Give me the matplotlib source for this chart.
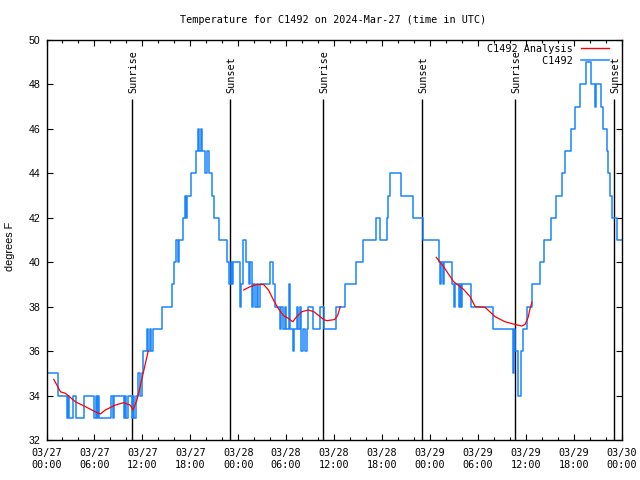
import matplotlib
matplotlib.use('Agg')
import matplotlib.pyplot as plt
from matplotlib.lines import Line2D

# time axis: hours since 2024-03-27 00:00 UTC
obs_hours = [0.0, 1.5, 2.6, 2.75, 2.85, 3.3, 3.7, 4.7, 6.0, 6.2, 6.35, 6.5, 6.6, 8.1, 8.3, 8.5,
             9.7, 9.85, 10.0, 10.2, 10.7, 10.85, 10.95, 11.2, 11.5, 11.7, 11.9, 12.1, 12.6, 12.7,
             12.9, 13.1, 13.3, 14.5, 15.7, 15.9, 16.2, 16.4, 16.6, 17.1, 17.3, 17.45, 17.6, 18.05,
             18.7, 19.0, 19.15, 19.3, 19.45, 19.9, 20.1, 20.3, 20.7, 21.0, 21.6, 22.6, 22.8, 23.1,
             23.2, 23.3, 24.2, 24.4, 24.6, 25.0, 25.3, 25.5, 25.7, 25.9, 26.1, 26.3, 26.5, 26.7,
             28.0, 28.4, 28.6, 29.2, 29.4, 29.6, 29.8, 30.0, 30.3, 30.5, 30.8, 31.0, 31.3, 31.5,
             31.7, 31.9, 32.1, 32.4, 32.55, 32.7, 33.3, 34.25, 34.7, 36.2, 37.4, 38.8, 39.6, 41.3,
             41.8, 42.6, 42.8, 43.0, 44.4, 45.9, 47.1, 49.1, 49.3, 49.4, 49.6, 49.75, 50.8, 50.95,
             51.1, 51.6, 51.7, 51.85, 51.95, 53.1, 55.9, 58.4, 58.5, 58.65, 59.0, 59.35, 59.6,
             60.1, 60.8, 61.8, 62.3, 63.2, 63.8, 64.5, 64.9, 65.7, 66.1, 66.8, 67.5, 68.2, 68.6,
             68.75, 69.4, 69.7, 70.1, 70.3, 70.5, 70.75, 71.4, 72.0]
obs_temps = [35, 34, 33, 34, 33, 34, 33, 34, 33, 34, 33, 34, 33, 34, 33, 34,
             33, 34, 33, 34, 33, 34, 33, 34, 35, 34, 35, 36, 37, 36,
             37, 36, 37, 38, 39, 40, 41, 40, 41, 42, 43, 42, 43, 44,
             45, 46, 45, 46, 45, 44, 45, 44, 43, 42, 41, 40, 39, 40,
             39, 40, 38, 39, 41, 40, 39, 40, 38, 39, 38, 39, 38, 39,
             40, 39, 38, 37, 38, 37, 38, 37, 39, 37, 36, 37, 38, 37,
             38, 36, 37, 36, 37, 38, 37, 38, 37, 38, 39, 40, 41, 42,
             41, 42, 43, 44, 43, 42, 41, 40, 39, 40, 39, 40, 39, 38,
             39, 38, 39, 38, 39, 38, 37, 35, 37, 36, 34, 36, 37,
             38, 39, 40, 41, 42, 43, 44, 45, 46, 47, 48, 49, 48, 47,
             48, 47, 46, 45, 44, 43, 42, 41, 41]

# analysis curve, three pieces
ana1_hours = [0.91, 1.75, 2.37, 3.62, 4.87, 6.11, 6.74, 7.36, 8.61, 9.65, 10.48, 10.82,
              11.32, 11.85, 12.35, 12.73]
ana1_temps = [34.73, 34.17, 34.1, 33.72, 33.5, 33.27, 33.17, 33.35, 33.57, 33.68, 33.57, 33.35,
              33.8, 34.6, 35.4, 36.0]
ana2_hours = [24.67, 25.49, 26.33, 27.17, 27.79, 28.41, 29.04, 29.66, 30.28, 30.82, 31.32,
              31.94, 32.78, 33.48, 34.15, 34.65, 35.06, 35.69, 36.06, 36.44, 36.77]
ana2_temps = [38.75, 38.9, 39.0, 39.0, 38.75, 38.3, 37.9, 37.6, 37.47, 37.32, 37.55,
              37.77, 37.85, 37.77, 37.58, 37.43, 37.37, 37.4, 37.42, 37.6, 38.0]
ana3_hours = [48.79, 49.7, 50.95, 52.2, 53.03, 53.66, 54.9, 56.15, 57.4, 58.44, 59.48,
              59.9, 60.27, 60.52, 60.77]
ana3_temps = [40.22, 39.8, 39.13, 38.78, 38.45, 38.0, 37.97, 37.55, 37.32, 37.22, 37.13,
              37.2, 37.5, 37.9, 38.2]

sunrise_hours = [10.74, 34.64, 58.67]
sunset_hours = [22.97, 47.03, 71.06]

tick_hours = [0, 6, 12, 18, 24, 30, 36, 42, 48, 54, 60, 66, 72]
tick_days = ['03/27'] * 4 + ['03/28'] * 4 + ['03/29'] * 4 + ['03/30']
tick_times = ['00:00', '06:00', '12:00', '18:00'] * 3 + ['00:00']

mono = 'DejaVu Sans Mono'
sans = 'Liberation Sans'
blue = '#1a85ff'
red = '#ff0000'

fig = plt.figure(figsize=(6.4, 4.8), dpi=100)
ax = fig.add_axes([46.5 / 640, 40 / 480, 575.2 / 640, 400 / 480])

ax.plot(obs_hours, obs_temps, color=blue, lw=1.1, drawstyle='steps-post', zorder=2)
for hh, tt in [(ana1_hours, ana1_temps), (ana2_hours, ana2_temps), (ana3_hours, ana3_temps)]:
    ax.plot(hh, tt, color=red, lw=0.9, zorder=3)

# sun lines with rotated labels
for hs, name in [(sunrise_hours, 'Sunrise'), (sunset_hours, 'Sunset')]:
    for h in hs:
        ax.vlines(h, 32, 47.35, color='black', lw=1.0, zorder=1)
        ax.text(h + 0.15, 47.62, name, rotation=90, ha='center', va='bottom',
                family=mono, fontsize=7.3, zorder=4)

ax.set_xlim(0, 72)
ax.set_ylim(32, 50)
ax.set_xticks(tick_hours)
ax.set_xticklabels([d + '\n' + t for d, t in zip(tick_days, tick_times)],
                   family=mono, fontsize=7.3, linespacing=1.35)
ax.set_xticks(range(0, 73, 2), minor=True)
ax.set_yticks(range(32, 51, 2))
ax.set_yticklabels([str(v) for v in range(32, 51, 2)], family=sans, fontsize=7.6)
ax.tick_params(which='both', direction='in', top=True, right=True, width=0.8)
ax.tick_params(which='major', length=4.2)
ax.tick_params(which='minor', length=2.2)
ax.tick_params(axis='x', pad=5.5)
ax.tick_params(axis='y', pad=4.5)
for sp in ax.spines.values():
    sp.set_linewidth(1.0)

fig.text(333 / 640, 1 - 20 / 480, 'Temperature for C1492 on 2024-Mar-27 (time in UTC)',
         ha='center', va='center', family=mono, fontsize=7.3)
fig.text(10 / 640, 1 - 246 / 480, 'degrees F', rotation=90, ha='center', va='center',
         family=sans, fontsize=7.8)

handles = [Line2D([], [], color=red, lw=1.0), Line2D([], [], color=blue, lw=1.1)]
ax.legend(handles, ['C1492 Analysis', '         C1492'], loc='upper right',
          bbox_to_anchor=((609 - 46.5) / 575.2, (440 - 44) / 400), markerfirst=False,
          frameon=False, prop={'family': mono, 'size': 7.3}, borderpad=0, borderaxespad=0,
          handlelength=2.8, handletextpad=0.8, labelspacing=0.2)

fig.savefig('out.png', dpi=100)
